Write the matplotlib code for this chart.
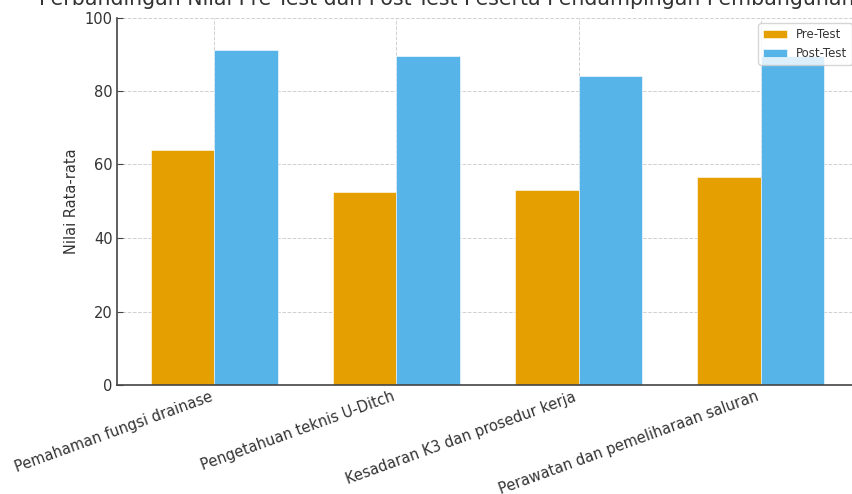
import matplotlib
matplotlib.use("Agg")
import matplotlib.pyplot as plt
import numpy as np

categories = [
    "Pemahaman fungsi drainase",
    "Pengetahuan teknis U-Ditch",
    "Kesadaran K3 dan prosedur kerja",
    "Perawatan dan pemeliharaan saluran",
]
pre_test = [64.0, 52.4, 53.1, 56.7]
post_test = [91.1, 89.4, 84.0, 89.4]
series_labels = ["Pre-Test", "Post-Test"]
title = "Perbandingan Nilai Pre-Test dan Post-Test Peserta Pendampingan Pembangunan U-Ditch"
ylabel = "Nilai Rata-rata"

plt.rcParams["font.family"] = ["DejaVu Sans"]

fig = plt.figure(figsize=(8.53, 4.94), dpi=100)
ax = fig.add_axes([117 / 853, 1 - 385 / 494, (858 - 117) / 853, (385 - 17.5) / 494])

x = np.arange(len(categories))
w = 0.35
ax.bar(x - w / 2, pre_test, w, label=series_labels[0], color="#E69F00",
       edgecolor="white", linewidth=0.4, zorder=2)
ax.bar(x + w / 2, post_test, w, label=series_labels[1], color="#56B4E9",
       edgecolor="white", linewidth=0.4, zorder=2)

ax.set_ylim(0, 100)
ax.set_xticks(x)
ax.set_xticklabels(categories, rotation=20, ha="right", fontsize=10.5, color="#333333")
ax.tick_params(axis="y", labelsize=10.5, labelcolor="#333333")
ax.tick_params(direction="in", length=4, pad=3, color="#444444")
ax.set_ylabel(ylabel, fontsize=10.5, color="#333333", labelpad=4)
ax.set_title(title, fontsize=14.8, color="#333333", pad=9)

ax.set_axisbelow(True)
ax.grid(True, linestyle="--", color="#d0d0d0", linewidth=0.7)
for s in ["top", "right"]:
    ax.spines[s].set_visible(False)
for s in ["left", "bottom"]:
    ax.spines[s].set_color("#444444")
    ax.spines[s].set_linewidth(1.2)

leg = ax.legend(loc="upper right", fontsize=8.5, frameon=True)
leg.get_frame().set_edgecolor("#cccccc")
for t in leg.get_texts():
    t.set_color("#333333")

fig.savefig("out.png", dpi=100)
